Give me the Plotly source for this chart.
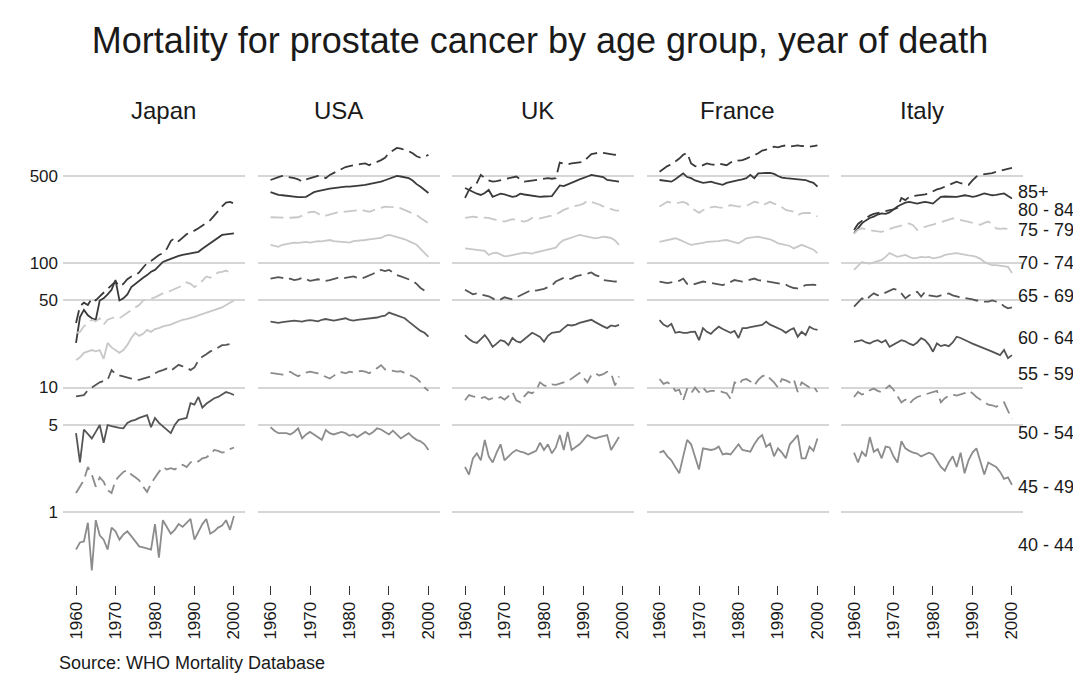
import plotly.graph_objects as go

# ---------------- data (rate per 100,000) ----------------
YEARS = list(range(1960, 2001))
UK_YEARS = list(range(1960, 2000))
COUNTRIES = ["Japan", "USA", "UK", "France", "Italy"]
SERIES_AGES = ["85+", "80 - 84", "75 - 79", "70 - 74", "65 - 69", "60 - 64", "55 - 59", "50 - 54"]
RIGHT_LABELS = ["85+", "80 - 84", "75 - 79", "70 - 74", "65 - 69", "60 - 64",
                "55 - 59", "50 - 54", "45 - 49", "40 - 44"]
Y_TICKS = [1, 5, 10, 50, 100, 500]
X_TICKS = [1960, 1970, 1980, 1990, 2000]

japan_s0 = [33, 45, 48, 46, 52, 50, 54, 58, 62, 66, 71, 65, 68, 74, 78, 80, 84, 92, 100, 104,
            110, 116, 120, 130, 150, 159, 150, 160, 170, 178, 182, 190, 200, 210, 221, 240, 262, 285, 305, 310, 300]
japan_s1 = [22.8, 36.8, 42, 38, 36, 35, 50, 52, 56, 61, 73, 50, 52, 56, 64, 68, 72, 76, 80, 85,
            88, 95, 102, 105, 108, 112, 114, 116, 118, 120, 122, 123, 130, 137, 142, 150, 160, 168, 170, 172, 173]
japan_s2 = [27.5, 28, 31, 33, 35, 34, 36, 32, 35, 36, 37, 36, 38, 40, 42, 44, 46, 50, 51, 52,
            53, 55, 57, 58, 60, 62, 64, 66, 70, 68, 64, 68, 72, 78, 76, 80, 84, 85, 87, 84, 83]
japan_s3 = [16.6, 17.5, 19, 19.5, 20, 19.5, 20, 17, 22.8, 21, 20, 19, 20, 22, 25, 27.5, 26, 27, 29, 28,
            29.5, 30, 31, 31.5, 32, 33, 34, 35, 35.5, 36, 37, 38, 39, 40, 41, 42, 43, 44, 46, 48, 50]
japan_s4 = [8.5, 8.6, 8.7, 9.5, 10.0, 10.5, 11.0, 11.3, 11.5, 13.8, 12.8, 12.5, 12.3, 12.0, 11.8, 11.5, 11.5, 11.8, 12.0, 12.3,
            13.0, 13.5, 13.8, 14.2, 13.6, 14.5, 15.2, 14.8, 14.5, 13.8, 14.5, 16.5, 17.7, 18.5, 19.5, 20.0, 21.0, 21.9, 22.0, 22.5, 22.8]
japan_s5 = [4.3, 2.5, 4.6, 4.2, 3.9, 4.4, 5.0, 3.6, 5.0, 4.9, 4.8, 4.75, 4.7, 5.2, 5.4, 5.5, 5.7, 5.85, 6.0, 4.8,
            5.7, 5.2, 4.9, 4.6, 4.3, 5.0, 5.5, 5.6, 5.7, 7.5, 7.3, 8.4, 6.9, 7.4, 7.8, 8.2, 8.4, 8.8, 9.2, 9.0, 8.7]
japan_s6 = [1.42, 1.6, 1.81, 2.3, 2.0, 1.6, 1.9, 1.75, 1.5, 1.42, 1.8, 1.95, 2.1, 2.17, 2.0, 1.9, 1.8, 1.6, 1.45, 1.7,
            1.9, 2.1, 2.3, 2.2, 2.25, 2.2, 2.3, 2.4, 2.3, 2.5, 2.6, 2.55, 2.7, 2.75, 2.9, 3.15, 3.1, 3.0, 3.05, 3.2, 3.3]
japan_s7 = [0.50, 0.57, 0.58, 0.82, 0.34, 0.86, 0.65, 0.60, 0.50, 0.75, 0.70, 0.60, 0.66, 0.70, 0.64, 0.58, 0.53, 0.52, 0.51, 0.50,
            0.80, 0.43, 0.86, 0.75, 0.67, 0.72, 0.80, 0.76, 0.82, 0.88, 0.60, 0.70, 0.80, 0.88, 0.67, 0.70, 0.75, 0.78, 0.86, 0.72, 0.93]

usa_s0 = [464, 480, 490, 500, 495, 490, 480, 470, 450, 470, 480, 490, 500, 500, 480, 510, 530, 550, 570, 590,
          600, 610, 615, 625, 630, 610, 640, 650, 670, 700, 765, 800, 840, 830, 810, 790, 760, 720, 700, 710, 740]
usa_s1 = [371, 360, 352, 350, 346, 342, 340, 338, 338, 340, 355, 371, 378, 385, 390, 395, 400, 405, 408, 410,
          410, 412, 415, 420, 424, 430, 438, 445, 450, 462, 475, 490, 500, 495, 488, 480, 460, 430, 410, 390, 365]
usa_s2 = [233, 232, 231, 230, 230, 231, 232, 233, 240, 250, 256, 258, 250, 238, 240, 245, 253, 255, 256, 258,
          260, 262, 265, 267, 262, 258, 265, 272, 280, 284, 282, 282, 280, 275, 267, 258, 250, 243, 230, 220, 209]
usa_s3 = [140, 137, 135, 140, 142, 145, 146, 145, 147, 148, 146, 148, 150, 149, 151, 153, 150, 150, 148, 147,
          146, 150, 151, 150, 153, 155, 157, 158, 159, 165, 168, 165, 162, 159, 155, 150, 145, 140, 130, 120, 112]
usa_s4 = [75, 76, 77, 76, 74, 75, 73, 74, 76, 74, 72, 73, 74, 73, 72, 73, 75, 76, 75, 76,
          77, 78, 76, 75, 77, 80, 82, 85, 88, 86, 88, 84, 80, 78, 76, 74, 72, 68, 63, 60, 57]
usa_s5 = [33.8, 33.5, 33, 33.5, 34, 34.2, 34.5, 34, 33.8, 34.5, 34.8, 34.5, 34, 35, 35.5, 35, 34.5, 35, 35.5, 36,
          35, 34.5, 35, 35.2, 35.5, 35.8, 36, 36.5, 37.2, 37.8, 40, 39, 38, 37, 36, 33.8, 32, 30, 28.5, 27.5, 25.6]
usa_s6 = [13.1, 13.0, 12.8, 12.7, 13.0, 13.4, 12.8, 12.3, 12.8, 13.2, 13.4, 13.2, 13.0, 12.6, 12.2, 11.8, 12.4, 13.1, 13.3, 13.0,
          13.4, 13.2, 13.4, 13.6, 13.4, 13.0, 13.8, 14.3, 15.1, 14.0, 13.8, 13.6, 13.4, 13.5, 13.0, 12.7, 12.3, 11.8, 11.0, 10.0, 9.4]
usa_s7 = [4.8, 4.5, 4.3, 4.3, 4.3, 4.2, 4.4, 4.7, 3.9, 4.2, 4.4, 4.2, 4.0, 3.8, 4.56, 4.3, 4.2, 4.3, 4.4, 4.3,
          4.1, 4.2, 4.0, 4.2, 4.4, 4.2, 4.4, 4.7, 4.6, 4.4, 4.2, 4.5, 4.2, 3.9, 4.1, 4.3, 4.0, 3.8, 3.7, 3.5, 3.15]

uk_s0 = [333, 386, 420, 440, 510, 480, 460, 450, 455, 464, 470, 480, 490, 495, 470, 450, 455, 460, 462, 464,
         470, 480, 475, 480, 640, 630, 620, 630, 635, 645, 650, 700, 750, 760, 770, 765, 755, 740, 740, 740]
uk_s1 = [400, 385, 370, 360, 352, 365, 386, 340, 350, 360, 355, 348, 340, 345, 360, 355, 350, 348, 345, 340,
         342, 344, 345, 380, 420, 415, 430, 445, 455, 470, 480, 495, 510, 505, 500, 490, 464, 460, 455, 450]
uk_s2 = [230, 233, 236, 233, 232, 233, 230, 225, 221, 218, 215, 220, 225, 222, 218, 215, 220, 230, 230, 228,
         232, 236, 240, 245, 255, 267, 275, 282, 288, 292, 300, 316, 310, 303, 295, 285, 277, 270, 265, 263]
uk_s3 = [131, 130, 129, 128, 126, 125, 116, 120, 121, 117, 113, 114, 116, 118, 120, 121, 120, 119, 122, 124,
         127, 129, 131, 133, 145, 153, 156, 159, 164, 168, 166, 163, 160, 158, 160, 163, 161, 159, 152, 140]
uk_s4 = [61, 58, 56, 57, 56, 55, 54, 52, 50, 51, 53, 52, 51, 53, 55, 57, 59, 61, 60, 61,
         62, 64, 66, 71, 74, 76, 74, 75, 78, 80, 81, 82, 84, 80, 78, 73, 72, 71, 71, 71]
uk_s5 = [26.4, 24.5, 23.3, 22.8, 24.5, 26.4, 24, 21.2, 22.5, 24, 23.5, 21.9, 25, 23.5, 23, 24.5, 26, 27.5, 26.5, 25.5,
         23.3, 26, 27.5, 27.8, 28.1, 30, 31.8, 31.5, 32, 33, 33.8, 34.5, 35, 33.5, 32, 31, 30, 31.5, 31, 31.8]
uk_s6 = [7.9, 8.7, 8.5, 8.3, 8.2, 8.4, 8.0, 8.2, 8.1, 8.4, 8.0, 8.5, 9.2, 7.9, 7.6, 8.5, 9.2, 9.0, 9.5, 11.0,
         10.4, 10.2, 10.6, 10.5, 10.8, 11.0, 11.2, 11.8, 12.4, 13.1, 12.0, 11.0, 12.6, 13.0, 12.5, 12.8, 13.4, 13.0, 10.4, 12.3]
uk_s7 = [2.3, 2.0, 2.7, 2.96, 2.6, 3.8, 2.8, 2.5, 3.0, 3.5, 2.6, 2.8, 3.0, 3.15, 3.05, 3.0, 2.9, 3.0, 3.1, 3.6,
         3.15, 3.5, 2.96, 3.3, 4.15, 3.15, 4.4, 3.15, 3.35, 3.5, 3.8, 4.15, 4.0, 3.9, 4.0, 4.1, 4.15, 3.15, 3.6, 4.0]

france_s0 = [540, 570, 600, 620, 650, 690, 740, 765, 630, 600, 590, 610, 630, 620, 615, 630, 620, 610, 640, 670,
             665, 670, 690, 710, 735, 760, 800, 810, 830, 860, 850, 870, 880, 860, 870, 880, 870, 860, 860, 870, 880]
france_s1 = [464, 460, 455, 450, 470, 500, 525, 490, 480, 460, 450, 440, 445, 450, 440, 430, 424, 440, 450, 455,
             464, 470, 480, 510, 480, 525, 530, 528, 530, 520, 500, 485, 480, 478, 475, 470, 466, 464, 450, 440, 410]
france_s2 = [284, 295, 310, 305, 303, 306, 310, 300, 277, 265, 253, 265, 277, 280, 284, 280, 277, 282, 292, 288,
             284, 286, 288, 298, 310, 305, 292, 300, 310, 300, 292, 280, 267, 262, 258, 243, 250, 252, 253, 245, 236]
france_s3 = [148, 150, 153, 156, 158, 154, 148, 144, 140, 141, 142, 145, 148, 148, 148, 150, 152, 153, 150, 147,
             144, 150, 158, 160, 162, 163, 160, 158, 155, 150, 144, 142, 140, 137, 131, 136, 140, 136, 131, 128, 120]
france_s4 = [71, 70, 69, 70, 71, 72, 75, 68, 66.5, 68, 70, 71, 70, 69, 68, 67, 66.5, 68, 70, 73,
             72, 71, 72, 74, 75, 73, 72, 71, 71, 70, 69, 68, 67, 64.5, 63, 62.6, 64, 66.5, 67, 67, 66]
france_s5 = [34.8, 32, 30.8, 32.5, 27.5, 28, 27.5, 27.5, 28, 28.1, 24, 30, 28, 27, 29, 30.8, 29.5, 28.5, 27.5, 28.5,
             25, 30, 30, 30.5, 31, 31.5, 31.8, 33.8, 32, 31, 30, 29, 27.5, 29, 30, 25.6, 28, 26.4, 30.8, 29.5, 29]
france_s6 = [11.7, 10.7, 11.0, 10.5, 9.4, 9.6, 7.9, 9.8, 9.0, 10.0, 9.2, 10.0, 9.2, 9.4, 9.4, 9.4, 9.2, 9.0, 8.1, 11.0,
             10.5, 11.5, 11.7, 11.2, 10.4, 11.5, 12.3, 12.7, 11.8, 11.0, 10.0, 11.7, 11.4, 11.0, 11.7, 9.2, 11.0, 10.4, 10.0, 10.2, 9.2]
france_s7 = [3.0, 3.1, 2.8, 2.6, 2.3, 2.05, 2.8, 3.8, 3.5, 2.8, 2.2, 3.25, 3.2, 3.15, 3.2, 3.35, 2.9, 2.95, 2.9, 3.2,
             3.5, 3.15, 3.1, 3.05, 3.5, 3.9, 4.15, 3.35, 3.55, 2.8, 3.25, 3.0, 2.7, 3.5, 3.8, 4.15, 2.7, 2.7, 3.35, 3.1, 3.9]

italy_s0 = [184, 206, 218, 230, 240, 248, 252, 256, 258, 265, 270, 277, 333, 320, 340, 345, 348, 350, 356, 362,
            375, 390, 397, 410, 424, 440, 450, 437, 430, 424, 460, 495, 510, 515, 520, 528, 540, 550, 565, 575, 580]
italy_s1 = [173, 190, 208, 220, 230, 236, 245, 250, 248, 255, 270, 284, 295, 305, 310, 305, 300, 305, 310, 306,
            300, 320, 340, 342, 340, 338, 340, 345, 350, 346, 340, 345, 355, 362, 356, 350, 352, 358, 362, 345, 330]
italy_s2 = [173, 185, 190, 186, 184, 181, 180, 178, 182, 188, 192, 196, 200, 204, 208, 200, 184, 190, 196, 200,
            203, 208, 215, 220, 225, 228, 225, 221, 218, 215, 210, 206, 203, 210, 215, 205, 190, 188, 190, 188, 184]
italy_s3 = [88, 95, 102, 100, 99, 101, 104, 106, 112, 120, 116, 112, 114, 116, 112, 109, 110, 112, 111, 112,
            109, 110, 112, 116, 118, 119, 120, 118, 116, 115, 114, 112, 108, 102, 99, 96, 96, 95, 94, 93, 83]
italy_s4 = [44.7, 48, 52, 50, 54, 57, 55, 56, 58, 60, 62, 60.7, 57, 52, 55, 57, 58.8, 53.7, 58.8, 55,
            54, 53.7, 55, 56, 57, 55, 53.7, 53, 52.5, 52, 51, 50, 50, 49, 49, 50, 49, 48, 45, 43.3, 44]
italy_s5 = [23.3, 23.8, 24, 23, 22.6, 23.5, 24, 23, 24, 21.2, 22, 23, 24, 23.5, 22.5, 21.9, 23, 24.9, 24, 22,
            19.4, 22.6, 21.5, 22, 21.5, 23, 25.6, 25, 24, 23.3, 22.5, 21.9, 21.2, 20.6, 20.2, 19.4, 18.8, 18.2, 20, 17.2, 18.2]
italy_s6 = [8.4, 9.2, 8.8, 9.0, 9.5, 9.8, 9.4, 9.2, 9.8, 10.4, 9.6, 8.5, 7.6, 8.0, 7.4, 8.0, 8.4, 8.6, 8.8, 8.9,
            9.2, 9.4, 7.6, 8.2, 8.6, 8.8, 8.6, 8.8, 9.0, 9.4, 9.0, 8.4, 8.0, 7.6, 7.3, 7.2, 7.0, 7.3, 7.6, 6.5, 5.6]
italy_s7 = [3.0, 2.5, 3.05, 2.8, 4.0, 3.05, 3.2, 2.7, 3.35, 3.3, 2.8, 2.5, 3.7, 3.25, 3.1, 3.0, 2.95, 2.8, 2.9, 3.0,
            2.9, 2.6, 2.3, 2.15, 2.5, 2.8, 2.3, 3.0, 2.05, 2.6, 3.0, 3.25, 2.6, 2.0, 2.5, 2.4, 2.3, 2.1, 1.85, 1.9, 1.65]

JAPAN = [japan_s0, japan_s1, japan_s2, japan_s3, japan_s4, japan_s5, japan_s6, japan_s7]
USA = [usa_s0, usa_s1, usa_s2, usa_s3, usa_s4, usa_s5, usa_s6, usa_s7]
UK = [uk_s0, uk_s1, uk_s2, uk_s3, uk_s4, uk_s5, uk_s6, uk_s7]
FRANCE = [france_s0, france_s1, france_s2, france_s3, france_s4, france_s5, france_s6, france_s7]
ITALY = [italy_s0, italy_s1, italy_s2, italy_s3, italy_s4, italy_s5, italy_s6, italy_s7]
COUNTRY_DATA = [JAPAN, USA, UK, FRANCE, ITALY]
COUNTRY_YEARS = [YEARS, YEARS, UK_YEARS, YEARS, YEARS]

# ---------------- styles / layout ----------------
W, H = 1081, 676
OFF = 8  # page body margin offset
FONT = "Liberation Sans, Arial, sans-serif"
TEXT_COLOR = "#1a1a1a"
LINE_COLORS = ["#3a3a3a", "#3a3a3a", "#c8c8c8", "#c8c8c8", "#555555", "#555555", "#8c8c8c", "#8c8c8c"]
DASHED = [True, False, True, False, True, False, True, False]
GRID_COLOR = "#d6d6d6"


def px(v):
    return v - OFF


panel_left0 = px(63.0)
panel_w = 182.0
panel_step = 194.5
plot_top, plot_bot = px(135.0), px(585.0)
y_dom = [1 - plot_bot / H, 1 - plot_top / H]
y_range = [-0.586, 3.028]
x_range = [1956.7, 2002.8]

fig = go.Figure()
layout = dict(
    width=W, height=H,
    margin=dict(l=0, r=0, t=0, b=0),
    paper_bgcolor="white", plot_bgcolor="white",
    showlegend=False,
    font=dict(family=FONT, color=TEXT_COLOR),
)

annotations = []
for i, (country, data, yrs) in enumerate(zip(COUNTRIES, COUNTRY_DATA, COUNTRY_YEARS)):
    xa = "xaxis" if i == 0 else f"xaxis{i+1}"
    ya = "yaxis" if i == 0 else f"yaxis{i+1}"
    xref = "x" if i == 0 else f"x{i+1}"
    yref = "y" if i == 0 else f"y{i+1}"
    x0 = (panel_left0 + i * panel_step) / W
    x1 = (panel_left0 + i * panel_step + panel_w) / W
    layout[xa] = dict(
        domain=[x0, x1], range=x_range, anchor=yref,
        tickmode="array", tickvals=X_TICKS, ticktext=[str(t) for t in X_TICKS],
        tickangle=-90, ticks="outside", ticklen=9, tickwidth=1, tickcolor="#333333",
        tickfont=dict(size=17, color=TEXT_COLOR, family=FONT),
        showgrid=False, zeroline=False, showline=False, automargin=False,
    )
    layout[ya] = dict(
        domain=y_dom, type="log", range=y_range, anchor=xref,
        tickmode="array", tickvals=Y_TICKS, ticktext=[str(t) for t in Y_TICKS],
        showticklabels=(i == 0), ticks="",
        ticklabelstandoff=4,
        tickfont=dict(size=17, color=TEXT_COLOR, family=FONT),
        showgrid=True, gridcolor=GRID_COLOR, gridwidth=1.5,
        zeroline=False, showline=False, automargin=False,
    )
    for k, series in enumerate(data):
        fig.add_trace(go.Scatter(
            x=yrs, y=series, mode="lines", name=f"{country} {SERIES_AGES[k]}",
            xaxis=xref, yaxis=yref,
            line=dict(color=LINE_COLORS[k], width=1.8,
                      dash="13px,6px" if DASHED[k] else "solid"),
            hoverinfo="skip",
        ))

# panel titles
title_x = [163, 338, 537, 737, 922]
for name, tx in zip(COUNTRIES, title_x):
    annotations.append(dict(text=name, x=px(tx) / W, y=1 - px(110) / H, xref="paper", yref="paper",
                            xanchor="center", yanchor="middle", showarrow=False,
                            font=dict(size=24, family=FONT, color=TEXT_COLOR)))

# right side age labels
label_y = [192, 210, 230, 263, 296, 338, 374, 433, 487, 545]
for lab, ly in zip(RIGHT_LABELS, label_y):
    annotations.append(dict(text=lab, x=px(1016) / W, y=1 - px(ly) / H, xref="paper", yref="paper",
                            xanchor="left", yanchor="middle", showarrow=False,
                            font=dict(size=18, family=FONT, color=TEXT_COLOR)))

annotations.append(dict(text="Source: WHO Mortality Database", x=px(57) / W, y=1 - px(663) / H,
                        xref="paper", yref="paper", xanchor="left", yanchor="middle",
                        showarrow=False, font=dict(size=18, family=FONT, color=TEXT_COLOR)))

layout["annotations"] = annotations
layout["title"] = dict(text="Mortality for prostate cancer by age group, year of death",
                       x=px(540) / W, xanchor="center", y=1 - px(40) / H, yanchor="middle",
                       font=dict(size=36, family=FONT, color=TEXT_COLOR))
fig.update_layout(**layout)
fig.write_html("out.html")
